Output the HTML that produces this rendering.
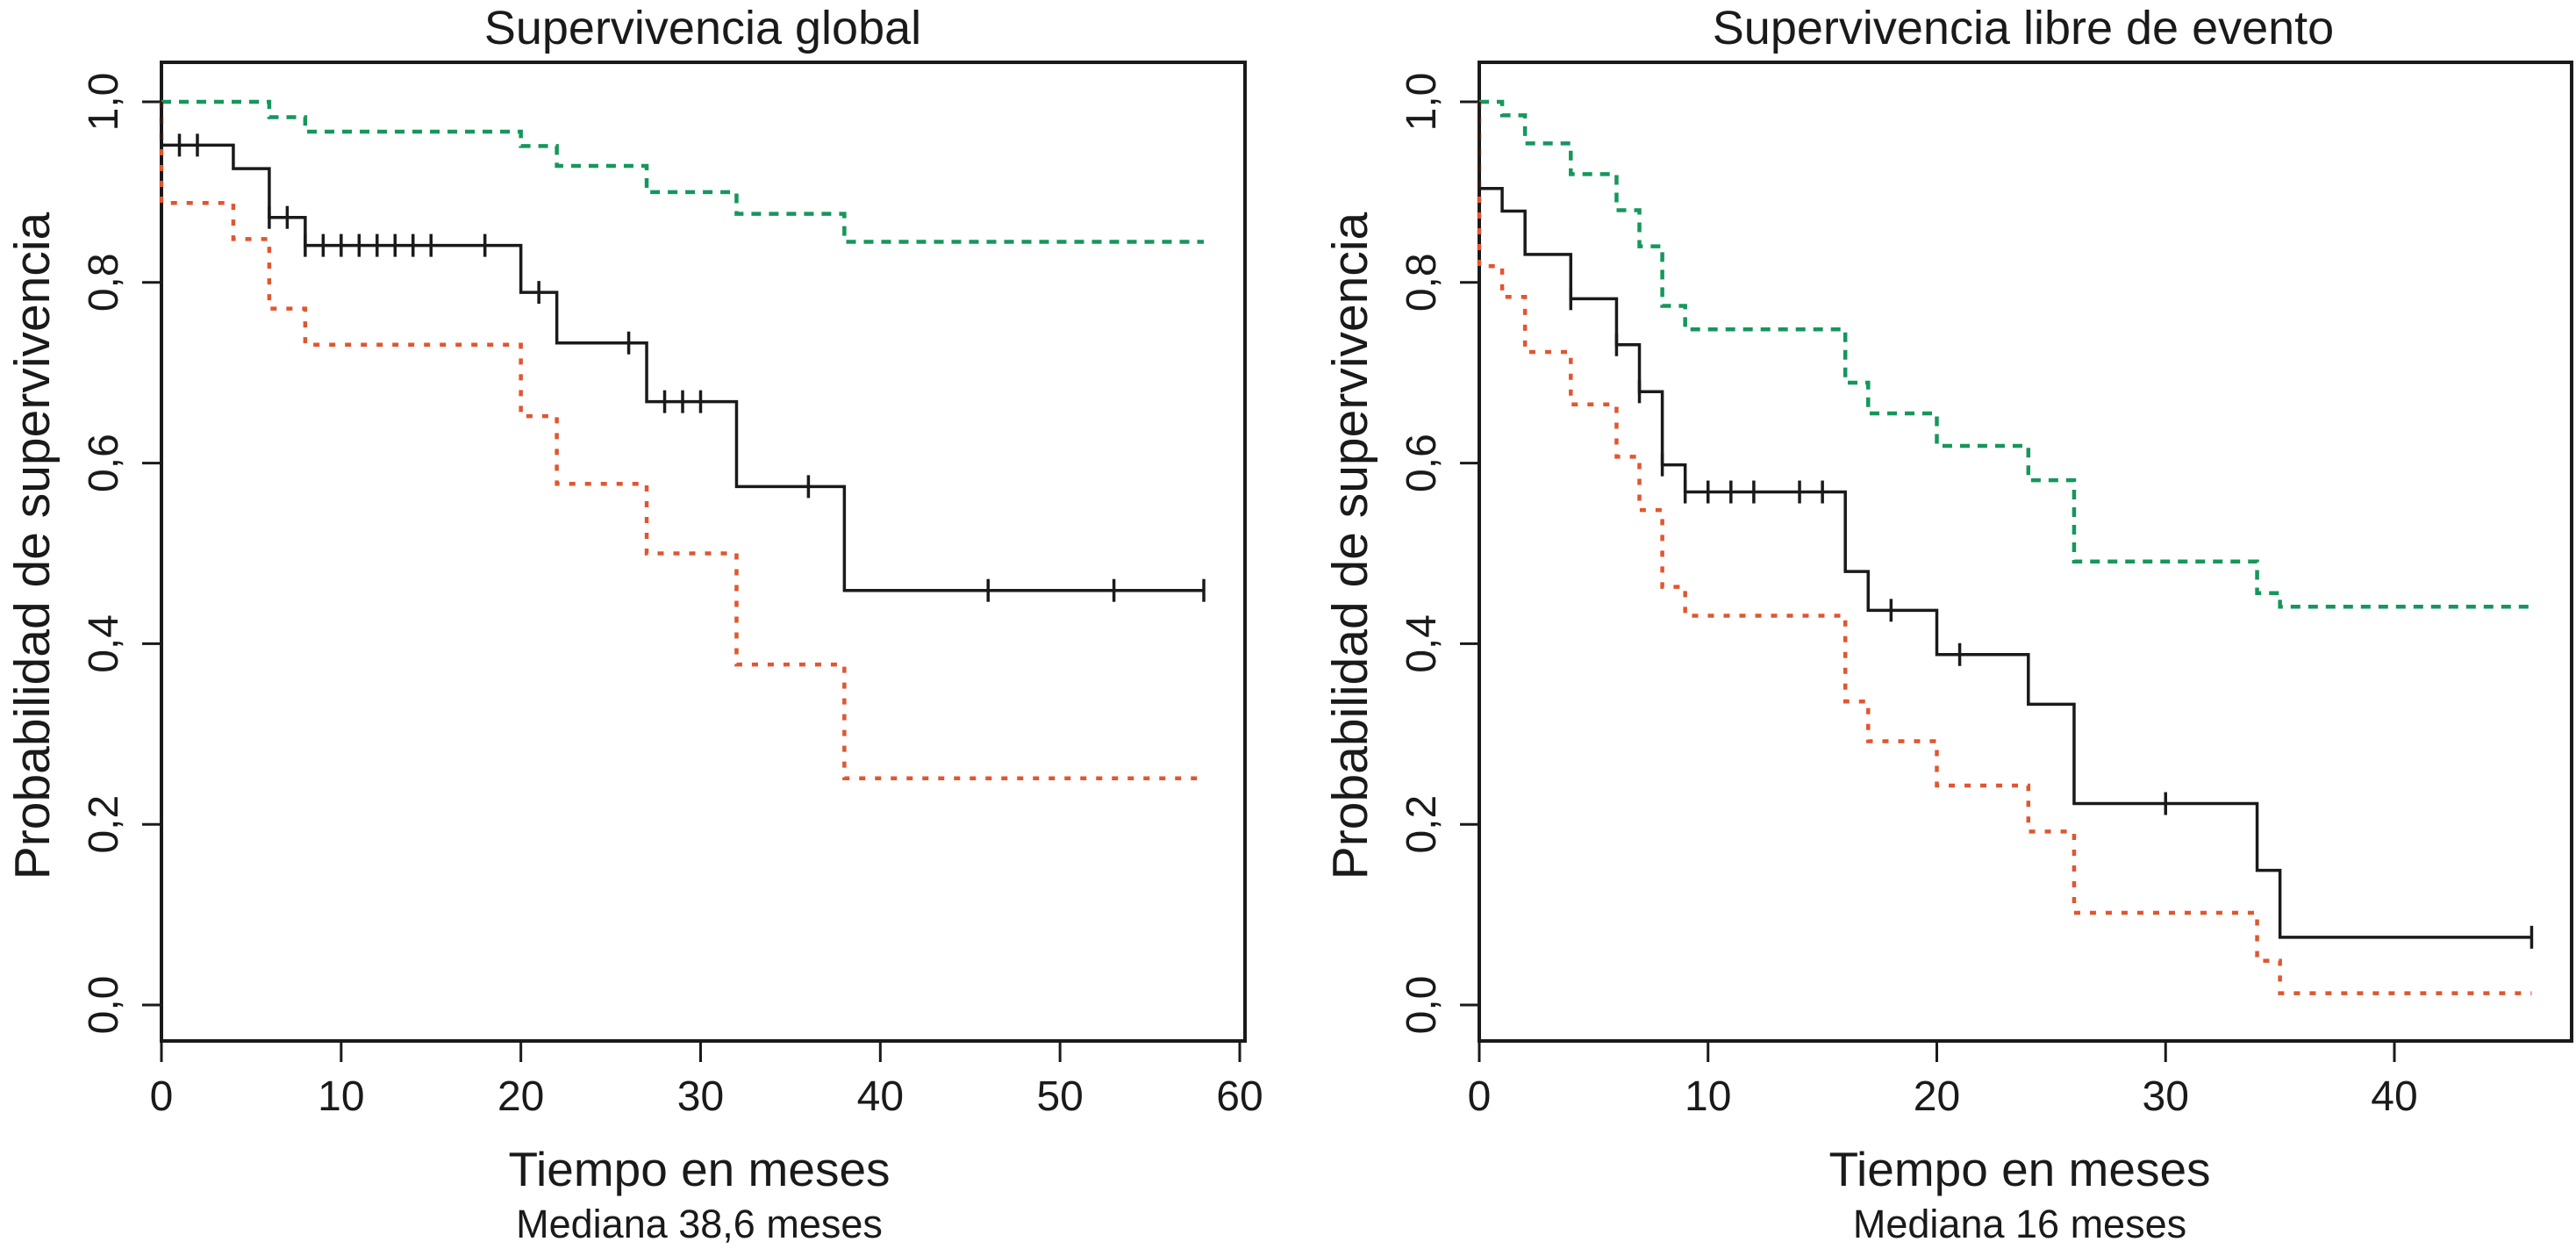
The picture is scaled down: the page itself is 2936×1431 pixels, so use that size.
<!DOCTYPE html>
<html><head><meta charset="utf-8">
<style>
html,body{margin:0;padding:0;background:#fff;}
svg{display:block;}
text{font-family:"Liberation Sans",Arial,sans-serif;fill:#1a1a1a;}
</style></head>
<body>
<svg id="fig" width="2936" height="1431" viewBox="0 0 2936 1431" xmlns="http://www.w3.org/2000/svg"></svg>
<script>
// ---- Panel 1: Supervivencia global ----
const p1Ticks = [0,10,20,30,40,50,60];
const yTicks = [0,0.2,0.4,0.6,0.8,1.0];
const yTickLabels = ["0,0","0,2","0,4","0,6","0,8","1,0"];
const p1BlackTimes = [0,4,6,8,20,22,27,32,38];
const p1BlackSurv = [0.952,0.926,0.872,0.841,0.789,0.733,0.668,0.574,0.459];
const p1BlackEnd = 58;
const p1BlackCens = [1,2,6,7,8,9,10,11,12,13,14,15,18,21,26,28,29,30,36,46,53,58];
const p1GreenTimes = [0,6,8,20,22,27,32,38];
const p1GreenSurv = [1.0,0.983,0.967,0.951,0.929,0.900,0.876,0.845];
const p1RedTimes = [0,4,6,8,20,22,27,32,38];
const p1RedSurv = [0.888,0.848,0.771,0.731,0.652,0.577,0.500,0.377,0.251];
// ---- Panel 2: Supervivencia libre de evento ----
const p2Ticks = [0,10,20,30,40];
const p2BlackTimes = [0,1,2,4,6,7,8,9,16,17,20,24,26,34,35];
const p2BlackSurv = [0.904,0.879,0.831,0.782,0.731,0.679,0.598,0.568,0.480,0.437,0.388,0.333,0.223,0.149,0.075];
const p2BlackEnd = 46;
const p2BlackCens = [4,6,7,8,9,10,11,12,14,15,18,21,30,46];
const p2GreenTimes = [0,1,2,4,6,7,8,9,16,17,20,24,26,34,35];
const p2GreenSurv = [1.0,0.985,0.954,0.920,0.880,0.840,0.774,0.748,0.689,0.655,0.619,0.581,0.491,0.456,0.441];
const p2RedTimes = [0,1,2,4,6,7,8,9,16,17,20,24,26,34,35];
const p2RedSurv = [0.818,0.784,0.723,0.665,0.607,0.548,0.463,0.431,0.336,0.292,0.243,0.192,0.102,0.049,0.013];

const NS="http://www.w3.org/2000/svg";
const svg=document.getElementById('fig');
function mk(tag,attrs,parent){const e=document.createElementNS(NS,tag);for(const k in attrs)e.setAttribute(k,attrs[k]);(parent||svg).appendChild(e);return e;}
const GREEN="#15975c", RED="#e0562f", BLACK="#1a1a1a";
const y0=1145, y1=116;
function yS(v){return y0+(y1-y0)*v;}

function panel(cfg){
  const g=mk('g',{});
  
  
  const xS=t=>cfg.x0+(t-0)*cfg.pxPerUnit;
  const box=mk('rect',{x:cfg.x0,y:71,width:cfg.boxR-cfg.x0,height:1186-71,fill:'none',stroke:BLACK,'stroke-width':4},g);
  
  
  cfg.xTicks.forEach(t=>{
    const l=mk('line',{x1:xS(t),x2:xS(t),y1:1186,y2:1210,stroke:BLACK,'stroke-width':3},g);
    
    
    const tx=mk('text',{x:xS(t),y:1265,'text-anchor':'middle','font-size':48},g);
    tx.textContent=String(t);
    
    
  });
  yTicks.forEach((v,i)=>{
    const l=mk('line',{x1:cfg.x0-22,x2:cfg.x0,y1:yS(v),y2:yS(v),stroke:BLACK,'stroke-width':3},g);
    
    
    const tx=mk('text',{x:0,y:0,'text-anchor':'middle','font-size':48,transform:`translate(${cfg.x0-50},${yS(v)}) rotate(-90)`},g);
    tx.textContent=yTickLabels[i];
    
    
  });
  const ti=mk('text',{x:cfg.titleX,y:50,'text-anchor':'middle','font-size':54},g);
  ti.textContent=cfg.title;
  
  
  const yt=mk('text',{x:0,y:0,'text-anchor':'middle','font-size':57,transform:`translate(${cfg.x0-128},622) rotate(-90)`},g);
  yt.textContent='Probabilidad de supervivencia';
  
  
  const xt=mk('text',{x:cfg.titleX-4,y:1351,'text-anchor':'middle','font-size':55},g);
  xt.textContent='Tiempo en meses';
  
  
  const md=mk('text',{x:cfg.titleX-4,y:1410,'text-anchor':'middle','font-size':45},g);
  md.textContent=cfg.median;
  
  
  function step(times,surv,end,color,dash,name){
    let d=`M${xS(0)},${yS(1)} L${xS(times[0])},${yS(surv[0])}`;
    for(let i=1;i<times.length;i++){d+=` L${xS(times[i])},${yS(surv[i-1])} L${xS(times[i])},${yS(surv[i])}`;}
    d+=` L${xS(end)},${yS(surv[surv.length-1])}`;
    const p=mk('path',{d:d,fill:'none',stroke:color,'stroke-width':dash?4.5:3.5,'stroke-dasharray':dash||'none'},g);
    
    
  }
  step(cfg.gT,cfg.gS,cfg.end,GREEN,'11 9','curve-green-upper');
  step(cfg.rT,cfg.rS,cfg.end,RED,'7 11','curve-red-lower');
  step(cfg.bT,cfg.bS,cfg.end,BLACK,null,'curve-km-estimate');
  function survAt(t){let s=cfg.bS[0];for(let i=0;i<cfg.bT.length;i++){if(cfg.bT[i]<=t)s=cfg.bS[i];}return s;}
  cfg.cens.forEach(t=>{
    const yy=yS(survAt(t));
    const c=mk('line',{x1:xS(t),x2:xS(t),y1:yy-13,y2:yy+13,stroke:BLACK,'stroke-width':3.5},g);
    
    
  });
}
panel({name:'panel-overall-survival',x0:184,pxPerUnit:(1413-184)/60,boxR:1419,xTicks:p1Ticks,title:'Supervivencia global',titleX:801,median:'Mediana 38,6 meses',
  bT:p1BlackTimes,bS:p1BlackSurv,end:p1BlackEnd,cens:p1BlackCens,gT:p1GreenTimes,gS:p1GreenSurv,rT:p1RedTimes,rS:p1RedSurv});
panel({name:'panel-event-free-survival',x0:1686,pxPerUnit:(2729-1686)/40,boxR:2931,xTicks:p2Ticks,title:'Supervivencia libre de evento',titleX:2306,median:'Mediana 16 meses',
  bT:p2BlackTimes,bS:p2BlackSurv,end:p2BlackEnd,cens:p2BlackCens,gT:p2GreenTimes,gS:p2GreenSurv,rT:p2RedTimes,rS:p2RedSurv});
</script>
</body></html>
